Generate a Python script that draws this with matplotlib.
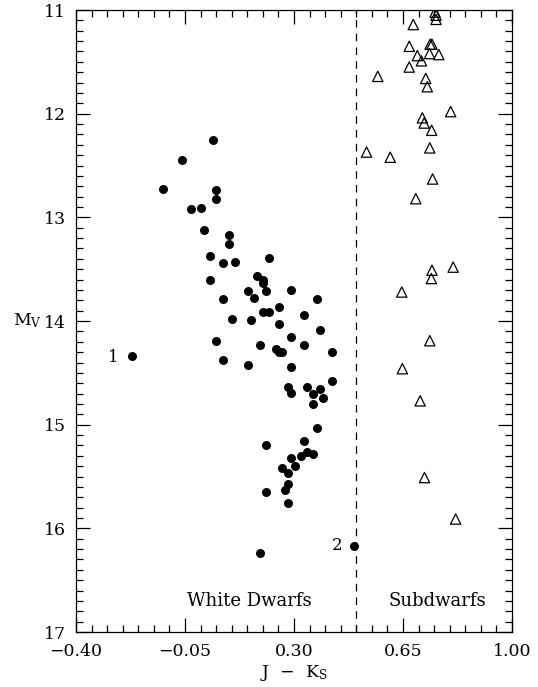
import matplotlib
matplotlib.use("Agg")
import matplotlib.pyplot as plt
from matplotlib.ticker import MultipleLocator, FixedLocator

plt.rcParams['font.family'] = ['DejaVu Serif']
plt.rcParams['mathtext.fontset'] = 'dejavuserif'

# white dwarfs: J-Ks, Mv
wd_jk = [0.041, -0.059, -0.12, 0.050, 0.050, -0.030, 0.000, 0.010, 0.091, 0.091,
         0.031, 0.071, 0.111, 0.221, 0.031, 0.181, 0.200, 0.201, 0.151, 0.211,
         0.291, 0.071, 0.171, 0.373, 0.252, 0.201, 0.221, 0.332, 0.101, 0.161,
         0.252, 0.383, 0.291, 0.050, 0.191, 0.332, 0.241, 0.252, 0.262, 0.423,
         -0.220, 0.071, 0.151, 0.291, 0.423, 0.282, 0.342, 0.291, 0.383, 0.362,
         0.392, 0.362, 0.373, 0.211, 0.332, 0.342, 0.362, 0.321, 0.291, 0.302,
         0.262, 0.282, 0.282, 0.271, 0.211, 0.282, 0.492, 0.191]
wd_mv = [12.25, 12.45, 12.73, 12.74, 12.82, 12.92, 12.91, 13.12, 13.17, 13.26,
         13.37, 13.44, 13.43, 13.39, 13.60, 13.57, 13.60, 13.63, 13.71, 13.71,
         13.70, 13.79, 13.78, 13.79, 13.86, 13.91, 13.91, 13.94, 13.98, 13.99,
         14.03, 14.09, 14.15, 14.19, 14.23, 14.23, 14.27, 14.30, 14.30, 14.30,
         14.34, 14.38, 14.42, 14.44, 14.58, 14.64, 14.64, 14.69, 14.66, 14.70,
         14.74, 14.80, 15.03, 15.20, 15.16, 15.26, 15.28, 15.30, 15.32, 15.40,
         15.42, 15.47, 15.57, 15.63, 15.65, 15.76, 16.17, 16.24]

# subdwarfs
sd_jk = [0.753, 0.756, 0.756, 0.683, 0.670, 0.737, 0.743, 0.735, 0.765, 0.696,
         0.709, 0.670, 0.569, 0.723, 0.728, 0.803, 0.712, 0.718, 0.742, 0.736,
         0.533, 0.609, 0.745, 0.691, 0.811, 0.743, 0.741, 0.646, 0.736, 0.648,
         0.705, 0.719, 0.819]
sd_mv = [11.02, 11.05, 11.09, 11.14, 11.35, 11.33, 11.33, 11.42, 11.43, 11.44,
         11.49, 11.55, 11.64, 11.66, 11.74, 11.98, 12.04, 12.09, 12.16, 12.33,
         12.37, 12.42, 12.63, 12.82, 13.48, 13.51, 13.59, 13.72, 14.19, 14.46,
         14.77, 15.51, 15.91]

xticks = [-0.40, -0.05, 0.30, 0.65, 1.00]
xticklabels = ['\u22120.40', '\u22120.05', '0.30', '0.65', '1.00']
yticks = [11, 12, 13, 14, 15, 16, 17]

fig = plt.figure(figsize=(5.38, 6.87), dpi=100)
ax = fig.add_axes([0.1413, 0.080, 0.8104, 0.9054])

ax.scatter(wd_jk, wd_mv, s=42, c='black', marker='o', linewidths=0, zorder=3)
ax.scatter(sd_jk, sd_mv, s=55, facecolors='none', edgecolors='black', marker='^',
           linewidths=0.9, zorder=3)

ax.axvline(0.50, color='black', linestyle=(0, (6, 5)), linewidth=0.9)

ax.text(-0.282, 14.35, '1', fontsize=12, ha='center', va='center')
ax.text(0.44, 16.17, '2', fontsize=12, ha='center', va='center')
ax.text(0.157, 16.70, 'White Dwarfs', fontsize=13, ha='center', va='center')
ax.text(0.759, 16.70, 'Subdwarfs', fontsize=13, ha='center', va='center')

ax.set_xlim(-0.40, 1.00)
ax.set_ylim(17, 11)
ax.xaxis.set_major_locator(FixedLocator(xticks))
ax.set_xticklabels(xticklabels)
ax.xaxis.set_minor_locator(MultipleLocator(0.05))
ax.yaxis.set_major_locator(FixedLocator(yticks))
ax.yaxis.set_minor_locator(MultipleLocator(0.1))

ax.tick_params(which='both', direction='in', top=True, right=True, labelsize=12.5,
               width=0.9)
ax.tick_params(axis='x', pad=8)
ax.tick_params(axis='y', pad=7)
ax.tick_params(which='major', length=10)
ax.tick_params(which='minor', length=5)
for sp in ax.spines.values():
    sp.set_linewidth(0.9)

ax.set_xlabel(r'J  $-$  K$_{\rm S}$', fontsize=12.5, labelpad=2)
ax.set_ylabel(r'M$_{\rm V}$', fontsize=12.5, rotation=0, labelpad=12, va='center')

fig.savefig('out.png', dpi=100)
